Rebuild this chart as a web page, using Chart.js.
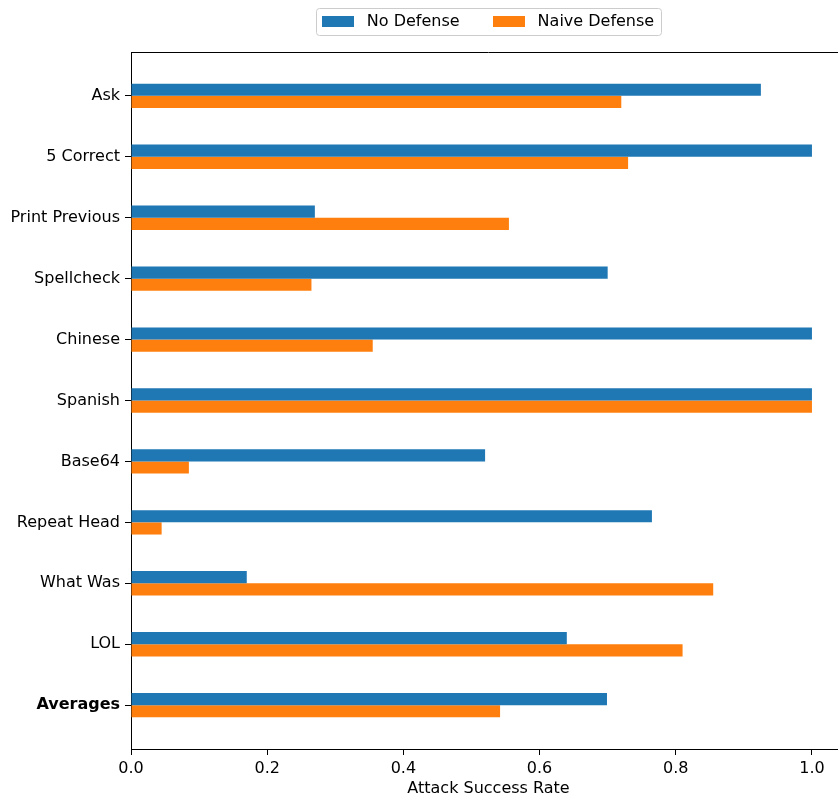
<!DOCTYPE html>
<html><head><meta charset="utf-8">
<script src="https://cdn.jsdelivr.net/npm/chart.js@4/dist/chart.umd.min.js"></script>
<style>html,body{margin:0;padding:0;overflow:hidden;background:#fff}canvas{display:block}</style>
</head><body>
<canvas id="c" width="860" height="798"></canvas>
<script>
const categories = ['Ask','5 Correct','Print Previous','Spellcheck','Chinese','Spanish','Base64','Repeat Head','What Was','LOL','Averages'];
const noDefense = [0.925, 1.0, 0.27, 0.70, 1.0, 1.0, 0.52, 0.765, 0.17, 0.64, 0.699];
const naiveDefense = [0.72, 0.73, 0.555, 0.265, 0.355, 1.0, 0.085, 0.045, 0.855, 0.81, 0.542];
const xTicks = [0, 0.2, 0.4, 0.6, 0.8, 1.0];
const seriesNames = ['No Defense', 'Naive Defense'];
const xTitle = 'Attack Success Rate';

const BLUE = '#1f77b4', ORANGE = '#ff7f0e';
const FONT = 'DejaVu Sans';
Chart.defaults.font.family = FONT;
Chart.defaults.font.size = 16;
Chart.defaults.color = '#000';

function swatch(color){
  const c = document.createElement('canvas'); c.width = 32; c.height = 11;
  const g = c.getContext('2d'); g.fillStyle = color; g.fillRect(0,0,32,11); return c;
}

const LEG_PAD = 28, SLOT = 42;
const decor = {
  id: 'decor',
  afterLayout(chart){
    const lg = chart.legend, ca = chart.chartArea;
    const h = lg.height;
    lg.left = ca.left - 3; lg.right = ca.right - 3;
    lg.top = 21.5 - 8 - LEG_PAD; lg.bottom = lg.top + h;
  },
  beforeDraw(chart){
    const hb = chart.legend.legendHitBoxes; if (!hb || !hb.length) return;
    const ctx = chart.ctx;
    const x0 = hb[0].left + (SLOT - 32) / 2 - 6;
    const last = hb[hb.length - 1];
    const x1 = last.left + last.width + 7;
    const y0 = hb[0].top - 5.5, y1 = hb[0].top + 16 + 5.5;
    ctx.save();
    ctx.fillStyle = 'rgba(255,255,255,0.8)'; ctx.strokeStyle = '#cccccc'; ctx.lineWidth = 1;
    ctx.beginPath();
    ctx.roundRect(Math.round(x0) + 0.5, Math.round(y0) + 0.5, Math.round(x1 - x0), Math.round(y1 - y0), 3);
    ctx.fill(); ctx.stroke(); ctx.restore();
  },
  afterDraw(chart){
    const ca = chart.chartArea, ctx = chart.ctx;
    ctx.save(); ctx.strokeStyle = '#000'; ctx.lineWidth = 1;
    ctx.beginPath();
    ctx.moveTo(ca.left, Math.round(ca.top) + 0.5); ctx.lineTo(ca.right, Math.round(ca.top) + 0.5);
    ctx.moveTo(Math.round(ca.right) + 0.5, ca.top); ctx.lineTo(Math.round(ca.right) + 0.5, ca.bottom);
    ctx.stroke(); ctx.restore();
  }
};

const colors = [BLUE, ORANGE];
const seriesValues = [noDefense, naiveDefense];

new Chart(document.getElementById('c'), {
  type: 'bar',
  data: {
    datasets: seriesNames.map((name, k) => ({
      label: name,
      data: seriesValues[k].map((v, i) => ({x: v, y: i})),
      backgroundColor: colors[k],
      borderWidth: 0,
      barPercentage: 1.0,
      categoryPercentage: 0.4
    }))
  },
  options: {
    indexAxis: 'y',
    responsive: false,
    animation: false,
    events: [],
    layout: { padding: { left: 0, right: 14, top: 0, bottom: 0 } },
    plugins: {
      tooltip: { enabled: false },
      legend: {
        position: 'top',
        maxHeight: 52,
        labels: {
          usePointStyle: true,
          pointStyleWidth: SLOT,
          boxHeight: 11,
          padding: LEG_PAD,
          font: { family: FONT, size: 16 },
          generateLabels: (chart) => chart.data.datasets.map((ds, i) => ({
            text: ds.label,
            pointStyle: swatch(ds.backgroundColor),
            fillStyle: ds.backgroundColor,
            strokeStyle: ds.backgroundColor,
            lineWidth: 0,
            hidden: false,
            datasetIndex: i,
            fontColor: '#000'
          }))
        }
      }
    },
    scales: {
      x: {
        type: 'linear',
        position: 'bottom',
        min: 0, max: 1.05,
        offset: false,
        afterBuildTicks: (s) => { s.ticks = xTicks.map(v => ({value: v})); },
        afterFit: (s) => { s.height = 49; },
        ticks: { padding: 4, font: { family: FONT, size: 16 }, callback: (v) => Number(v).toFixed(1) },
        grid: { offset: false, drawOnChartArea: false, drawTicks: true, tickLength: 6, color: '#000' },
        border: { display: true, color: '#000', width: 1 },
        title: { display: true, text: xTitle, font: { family: FONT, size: 16 }, padding: { top: 0, bottom: 0 } }
      },
      y: {
        type: 'linear',
        reverse: true,
        offset: false,
        min: -0.72, max: 10.72,
        afterBuildTicks: (s) => { s.ticks = categories.map((_, i) => ({value: i})); },
        afterFit: (s) => { s.width = 131; },
        ticks: {
          autoSkip: false,
          padding: 5,
          callback: (v) => categories[v],
          font: (ctx) => ({ family: FONT, size: 16, weight: (ctx.index === categories.length - 1) ? 'bold' : 'normal' })
        },
        grid: { offset: false, drawOnChartArea: false, drawTicks: true, tickLength: 6, color: '#000' },
        border: { display: true, color: '#000', width: 1 }
      }
    }
  },
  plugins: [decor]
});
</script>
</body></html>
